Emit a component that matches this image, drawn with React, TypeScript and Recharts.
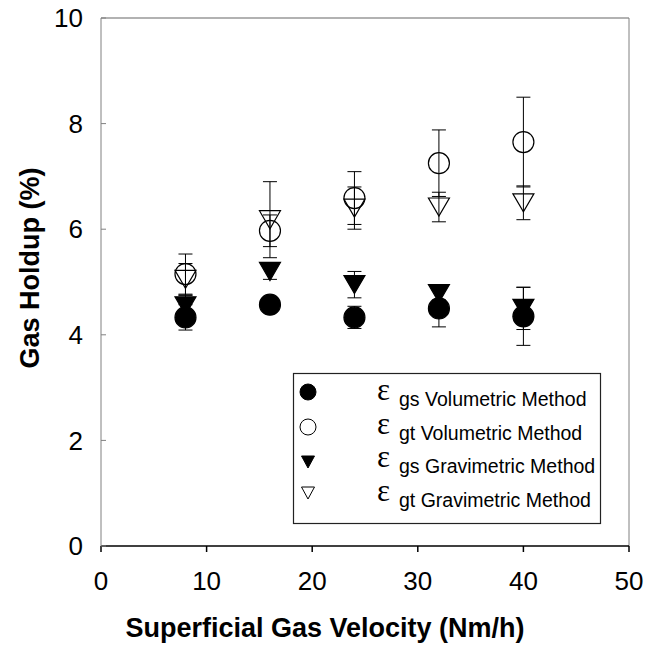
import { ScatterChart, Scatter, XAxis, YAxis, ErrorBar, ReferenceLine } from 'recharts';

// superficial gas velocity (Nm/h)
const velocities = [8, 16, 24, 32, 40];

// gas holdup (%) and error bar half-widths
const gsVolumetric = [4.33, 4.57, 4.33, 4.5, 4.35];
const gsVolumetricErr = [0.24, 0.1, 0.21, 0.35, 0.55];
const gtVolumetric = [5.15, 5.97, 6.59, 7.25, 7.65];
const gtVolumetricErr = [0.38, 0.3, 0.5, 0.63, 0.85];
const gsGravimetric = [4.55, 5.2, 4.95, 4.78, 4.5];
const gsGravimetricErr = [0.2, 0.15, 0.25, 0.12, 0.4];
const gtGravimetric = [5.05, 6.18, 6.4, 6.42, 6.5];
const gtGravimetricErr = [0.3, 0.72, 0.4, 0.28, 0.32];

const xTicks = [0, 10, 20, 30, 40, 50];
const yTicks = [0, 2, 4, 6, 8, 10];

const legendRows = [
  { sub: 'gs', method: 'Volumetric Method', marker: 'circle', filled: true },
  { sub: 'gt', method: 'Volumetric Method', marker: 'circle', filled: false },
  { sub: 'gs', method: 'Gravimetric Method', marker: 'triangle', filled: true },
  { sub: 'gt', method: 'Gravimetric Method', marker: 'triangle', filled: false },
];

const toPoints = (ys: number[], errs: number[]) =>
  velocities.map((x, i) => ({ x, y: ys[i], err: errs[i] }));

const font = '"Liberation Sans", Arial, sans-serif';

const makeCircle = (filled: boolean, r = 10.5) => (props: any) => (
  <circle
    cx={props.cx}
    cy={props.cy}
    r={r}
    fill={filled ? '#000' : 'none'}
    stroke="#000"
    strokeWidth={1.2}
  />
);

const makeTriangle = (filled: boolean, w = 21, h = 18) => (props: any) => {
  const { cx, cy } = props;
  return (
    <path
      d={`M${cx - w / 2},${cy - h / 2} L${cx + w / 2},${cy - h / 2} L${cx},${cy + h / 2} Z`}
      fill={filled ? '#000' : 'none'}
      stroke="#000"
      strokeWidth={1.2}
      strokeLinejoin="miter"
    />
  );
};

const XTitle = () => (
  <text x={325} y={637} textAnchor="middle" fontFamily={font} fontSize={27} fontWeight="bold" fill="#000">
    Superficial Gas Velocity (Nm/h)
  </text>
);

const YTitle = () => (
  <text
    x={39}
    y={268}
    transform="rotate(-90, 39, 268)"
    textAnchor="middle"
    fontFamily={font}
    fontSize={27}
    fontWeight="bold"
    fill="#000"
  >
    Gas Holdup (%)
  </text>
);

function LegendBox() {
  const markerY = [19, 54, 89, 120];
  const textY = [33, 67, 100, 134];
  return (
    <svg
      width={309}
      height={152}
      style={{ position: 'absolute', left: 292.5, top: 372.5, overflow: 'visible' }}
    >
      <rect x={0.5} y={0.5} width={307} height={150} fill="#fff" stroke="#222" strokeWidth={1.2} />
      {legendRows.map((row, i) => {
        const cx = 15;
        const cy = markerY[i];
        const fill = row.filled ? '#000' : 'none';
        return (
          <g key={i}>
            {row.marker === 'circle' ? (
              <circle cx={cx} cy={cy} r={8} fill={fill} stroke="#000" strokeWidth={1} />
            ) : (
              <path
                d={`M${cx - 6.5},${cy - 6} L${cx + 6.5},${cy - 6} L${cx},${cy + 6} Z`}
                fill={fill}
                stroke="#000"
                strokeWidth={1}
              />
            )}
            <text x={84} y={textY[i] - 6} fontFamily='"Liberation Serif", serif' fontSize={31} fill="#000">
              ε
            </text>
            <text x={106} y={textY[i]} fontFamily={font} fontSize={19.5} fill="#000">
              {row.sub} {row.method}
            </text>
          </g>
        );
      })}
    </svg>
  );
}

export default function App() {
  return (
    <div style={{ position: 'absolute', left: 0, top: 0, width: 648, height: 655, background: '#fff' }}>
      <ScatterChart width={648} height={655} margin={{ top: 18, right: 19, bottom: 0, left: 0 }}>
        <XAxis
          type="number"
          dataKey="x"
          domain={[0, 50]}
          ticks={xTicks}
          interval={0}
          height={109}
          stroke="#000"
          strokeWidth={1.5}
          tickSize={6}
          tickMargin={20}
          tick={{ fontSize: 26, fill: '#000', fontFamily: font }}
          label={{ content: XTitle }}
        />
        <YAxis
          type="number"
          dataKey="y"
          domain={[0, 10]}
          ticks={yTicks}
          interval={0}
          width={101}
          stroke="#808080"
          tickSize={-5}
          tickMargin={23}
          tick={{ fontSize: 26, fill: '#000', fontFamily: font }}
          label={{ content: YTitle }}
        />
        <ReferenceLine y={10} stroke="#666" strokeWidth={1.2} />
        <ReferenceLine x={50} stroke="#808080" strokeWidth={1} />
        <Scatter
          data={toPoints(gtVolumetric, gtVolumetricErr)}
          shape={makeCircle(false)}
          isAnimationActive={false}
        >
          <ErrorBar dataKey="err" direction="y" width={7} stroke="#000" strokeWidth={1} />
        </Scatter>
        <Scatter
          data={toPoints(gtGravimetric, gtGravimetricErr)}
          shape={makeTriangle(false)}
          isAnimationActive={false}
        >
          <ErrorBar dataKey="err" direction="y" width={7} stroke="#000" strokeWidth={1} />
        </Scatter>
        <Scatter
          data={toPoints(gsGravimetric, gsGravimetricErr)}
          shape={makeTriangle(true)}
          isAnimationActive={false}
        >
          <ErrorBar dataKey="err" direction="y" width={7} stroke="#000" strokeWidth={1} />
        </Scatter>
        <Scatter
          data={toPoints(gsVolumetric, gsVolumetricErr)}
          shape={makeCircle(true)}
          isAnimationActive={false}
        >
          <ErrorBar dataKey="err" direction="y" width={7} stroke="#000" strokeWidth={1} />
        </Scatter>
      </ScatterChart>
      <LegendBox />
    </div>
  );
}
